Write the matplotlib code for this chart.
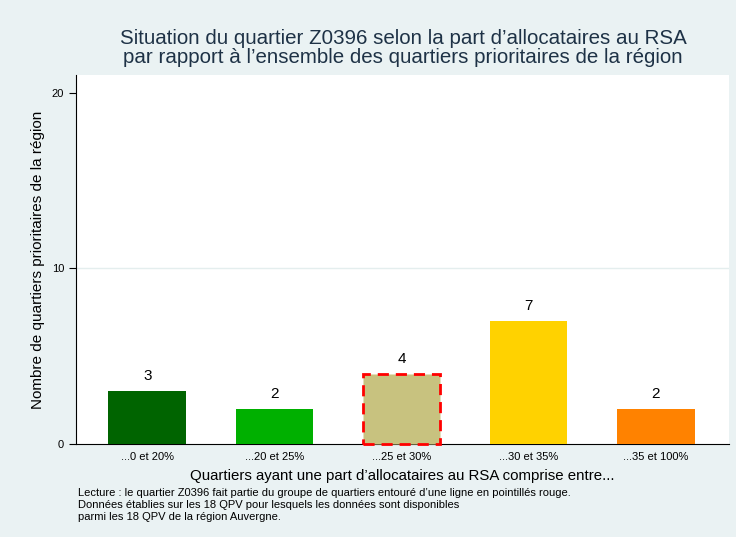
import matplotlib
matplotlib.use("Agg")
import matplotlib.pyplot as plt

plt.rcParams['font.family'] = ['Liberation Sans', 'DejaVu Sans']

categories = ["...0 et 20%", "...20 et 25%", "...25 et 30%", "...30 et 35%", "...35 et 100%"]
counts = [3, 2, 4, 7, 2]
colors = ["#006400", "#00B000", "#C8C27F", "#FFD200", "#FF8200"]
highlight = 2  # groupe du quartier Z0396

bg = "#EAF2F3"
fig = plt.figure(figsize=(7.36, 5.37), dpi=100, facecolor=bg)
ax = fig.add_axes([76 / 736, 1 - 444 / 537, (729 - 76) / 736, (444 - 75) / 537])
ax.set_facecolor("white")

x = list(range(len(categories)))
bars = ax.bar(x, counts, width=0.61, color=colors, zorder=3)
bars[highlight].set_edgecolor("red")
bars[highlight].set_linestyle((0, (4, 2.5)))
bars[highlight].set_linewidth(2)
bars[highlight].set_clip_on(False)

for xi, c in zip(x, counts):
    ax.text(xi, c + 0.45, str(c), ha="center", va="bottom", fontsize=11)

ax.set_xlim(-0.56, 4.575)
ax.set_ylim(0, 21)
ax.set_yticks([0, 10, 20])
ax.set_xticks(x)
ax.set_xticklabels(categories, fontsize=8)
ax.tick_params(axis="y", labelsize=8, length=5, width=0.8)
ax.tick_params(axis="x", length=0, pad=6)
ax.axhline(10, color="#E4EEEE", linewidth=1, zorder=0)
for s in ["top", "right"]:
    ax.spines[s].set_visible(False)
ax.spines["left"].set_linewidth(0.8)
ax.spines["bottom"].set_linewidth(0.8)

ax.set_ylabel("Nombre de quartiers prioritaires de la région", fontsize=11, labelpad=5)
ax.set_xlabel("Quartiers ayant une part d’allocataires au RSA comprise entre...",
              fontsize=10.8, labelpad=5)

fig.text(403 / 736, 1 - 48 / 537,
         "Situation du quartier Z0396 selon la part d’allocataires au RSA\n"
         "par rapport à l’ensemble des quartiers prioritaires de la région",
         ha="center", va="center", fontsize=14.8, color="#1E3246", linespacing=0.98)

fig.text(78 / 736, 1 - 488 / 537,
         "Lecture : le quartier Z0396 fait partie du groupe de quartiers entouré d’une ligne en pointillés rouge.\n"
         "Données établies sur les 18 QPV pour lesquels les données sont disponibles\n"
         "parmi les 18 QPV de la région Auvergne.",
         ha="left", va="top", fontsize=8, linespacing=1.25)

fig.savefig("out.png", dpi=100, facecolor=bg)
